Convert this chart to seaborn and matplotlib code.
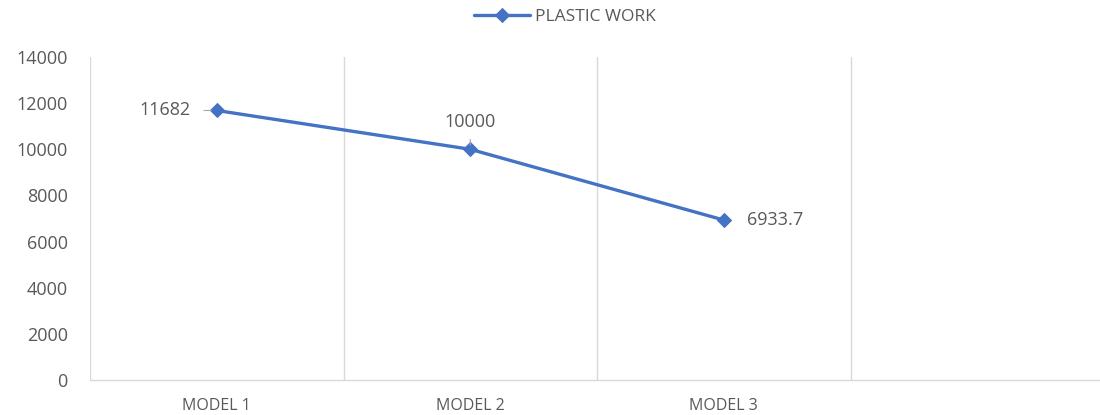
import pandas as pd
import matplotlib.pyplot as plt
import seaborn as sns

models = ["MODEL 1", "MODEL 2", "MODEL 3"]
plastic_work = [11682, 10000, 6933.7]
labels = ["11682", "10000", "6933.7"]

df = pd.DataFrame({"Model": models, "Plastic work": plastic_work})

sns.set_style("white")
plt.rcParams["font.family"] = ["Open Sans", "DejaVu Sans"]

blue = "#4472C4"
grey = "#595959"

fig = plt.figure(figsize=(11, 4.15), dpi=100)
ax = fig.add_axes([90 / 1100, 1 - 380 / 415, 1014 / 1100, (380 - 57) / 415])

sns.lineplot(data=df, x="Model", y="Plastic work", color=blue, linewidth=2.4,
             marker="D", markersize=7, markeredgecolor=blue, label="PLASTIC WORK",
             ax=ax, sort=False)

ax.set_xlim(-0.5, 3.5)
ax.set_ylim(0, 14000)
ax.set_yticks(range(0, 14001, 2000))
ax.set_xticks(range(len(models)))
ax.set_xticklabels(models)
ax.set_xlabel("")
ax.set_ylabel("")

# vertical grid between categories, like excel
for xg in [-0.5, 0.5, 1.5, 2.5]:
    ax.axvline(xg, color="#d9d9d9", linewidth=1, zorder=0)

for s in ["top", "right", "left"]:
    ax.spines[s].set_visible(False)
ax.spines["bottom"].set_color("#d9d9d9")
ax.spines["bottom"].set_linewidth(1)

ax.tick_params(axis="y", length=0, labelsize=13, labelcolor=grey, pad=16)
ax.tick_params(axis="x", length=0, labelsize=11.5, labelcolor=grey, pad=13)

# data labels
offsets = [(-37, 0), (0, 20), (37, 0)]
shrinks = [(7, 4), (4, 3)]
for i, (v, t) in enumerate(zip(plastic_work, labels)):
    ax.annotate(t, (i, v), xytext=offsets[i], textcoords="offset points",
                ha="center", va="center", fontsize=13, color=grey,
                arrowprops=dict(arrowstyle="-", color="#a6a6a6", lw=0.8,
                                shrinkA=shrinks[i][0], shrinkB=shrinks[i][1]) if i < 2 else None)

ax.legend(loc="upper center", bbox_to_anchor=(565 / 1100, 1.0), bbox_transform=fig.transFigure,
          frameon=False, fontsize=12.5, labelcolor=grey, handlelength=3.2,
          handletextpad=0.3, borderaxespad=0.1)

fig.savefig("out.png", dpi=100)
